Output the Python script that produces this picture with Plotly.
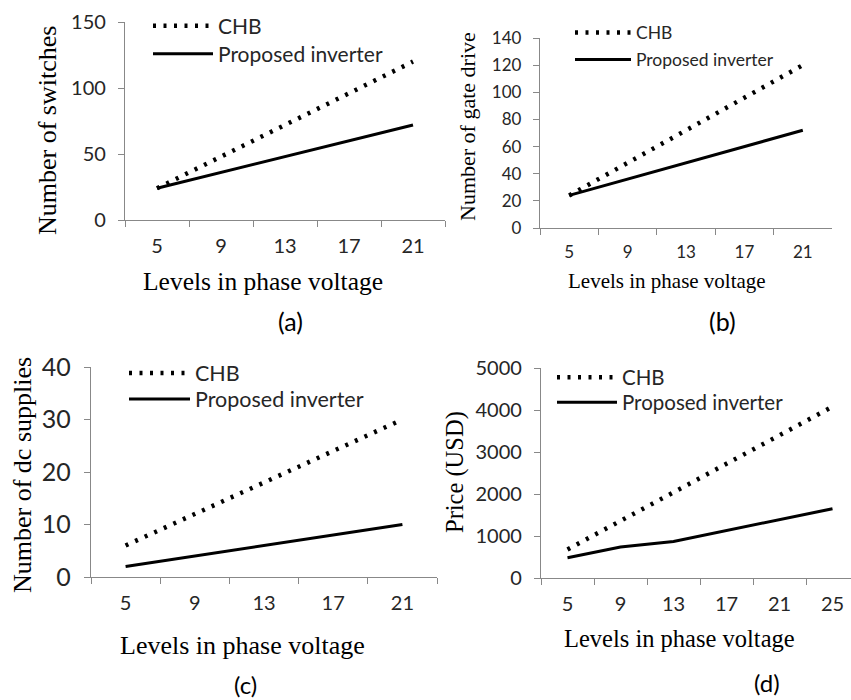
import plotly.graph_objects as go

# ---------------- data ----------------
levels_abc = ["5", "9", "13", "17", "21"]
levels_d = ["5", "9", "13", "17", "21", "25"]

switches_chb = [24, 48, 72, 96, 120]
switches_prop = [24, 36, 48, 60, 72]

gate_chb = [24, 48, 72, 96, 120]
gate_prop = [24, 36, 48, 60, 72]

dc_chb = [6, 12, 18, 24, 30]
dc_prop = [2, 4, 6, 8, 10]

price_chb = [680, 1360, 2040, 2720, 3400, 4080]
price_prop = [480, 740, 870, 1130, 1400, 1650]

series_names = ["CHB", "Proposed inverter"]
y_titles = ["Number of switches", "Number of gate drive", "Number of dc supplies", "Price (USD)"]
x_title = "Levels in phase voltage"
panel_labels = ["(a)", "(b)", "(c)", "(d)"]

# ---------------- layout helpers ----------------
W, H = 851, 700
def px_x(p):
    return p / W
def px_y(p):
    return 1 - p / H

SANS = "Lato, Carlito, Calibri, sans-serif"
SERIF = "Liberation Serif, Times New Roman, serif"
AXIS_GRAY = "#888888"
TXT = "#262626"

panels = [
    dict(xd=(125, 445), yd=(22, 220), yr=150, dt=50, cats=levels_abc, chb=switches_chb, prop=switches_prop,
         xr=(-0.5, 4.5), tickfs=20, ytickfs=20, ystand=8, legfs=21, legx=148, rows=(25, 53), iw=60,
         ytitle=(47, 131, 26), xtitle=(263, 282, 25.5), lab=(290, 321, 25)),
    dict(xd=(540, 832), yd=(38, 228), yr=140, dt=20, cats=levels_abc, chb=gate_chb, prop=gate_prop,
         xr=(-0.5, 4.5), tickfs=17, ytickfs=17, ystand=8, legfs=17.5, legx=570, rows=(34, 61), iw=56,
         ytitle=(467, 127, 22), xtitle=(667, 281, 21), lab=(722, 321, 25)),
    dict(xd=(91, 437), yd=(367, 577), yr=40, dt=10, cats=levels_abc, chb=dc_chb, prop=dc_prop,
         xr=(-0.5, 4.5), tickfs=20, ytickfs=25, ystand=8, legfs=21.5, legx=124, rows=(372, 398), iw=61,
         ytitle=(22, 475, 26), xtitle=(242, 645, 26), lab=(245, 684, 24)),
    dict(xd=(541, 851), yd=(368, 578), yr=5000, dt=1000, cats=levels_d, chb=price_chb, prop=price_prop,
         xr=(-0.5, -0.5 + 310 / 53), tickfs=20, ytickfs=20, ystand=8, legfs=20.5, legx=552, rows=(377, 402), iw=60,
         ytitle=(455, 472, 24.5), xtitle=(679, 638, 24.5), lab=(767, 682, 24)),
]

ROW_OFFSET = 19.5  # legend top -> first item centre, px

fig = go.Figure()
annotations = []
layout_upd = {}

for i, p in enumerate(panels):
    n = "" if i == 0 else str(i + 1)
    xa, ya = "x" + n, "y" + n
    series = [(p["chb"], dict(color="black", width=4.5, dash="3px,7.5px")),
              (p["prop"], dict(color="black", width=3))]
    for j, (vals, line) in enumerate(series):
        k = 2 * i + j + 1
        legname = "legend" if k == 1 else "legend" + str(k)
        fig.add_trace(go.Scatter(
            x=p["cats"], y=vals, mode="lines", name=series_names[j], line=line,
            xaxis=xa, yaxis=ya, legend=legname, hoverinfo="x+y"))
        layout_upd[legname] = dict(
            x=px_x(p["legx"]), y=px_y(p["rows"][j] - ROW_OFFSET), xanchor="left", yanchor="top",
            bgcolor="rgba(0,0,0,0)", borderwidth=0, itemwidth=p["iw"],
            font=dict(family=SANS, size=p["legfs"], color=TXT))

    layout_upd["xaxis" + n] = dict(
        domain=[px_x(p["xd"][0]), px_x(p["xd"][1])], anchor=ya,
        type="category", range=list(p["xr"]), tickson="boundaries",
        showline=True, linecolor=AXIS_GRAY, linewidth=1.3,
        ticks="outside", ticklen=6, tickcolor=AXIS_GRAY, tickwidth=1.3,
        showgrid=False, zeroline=False, fixedrange=True,
        tickfont=dict(family=SANS, size=p["tickfs"], color=TXT),
        ticklabelstandoff=8)
    layout_upd["yaxis" + n] = dict(
        domain=[px_y(p["yd"][1]), px_y(p["yd"][0])], anchor=xa,
        range=[0, p["yr"]], dtick=p["dt"], tick0=0,
        showline=True, linecolor=AXIS_GRAY, linewidth=1.3,
        ticks="outside", ticklen=6, tickcolor=AXIS_GRAY, tickwidth=1.3,
        showgrid=False, zeroline=False, fixedrange=True,
        tickfont=dict(family=SANS, size=p["ytickfs"], color=TXT),
        ticklabelstandoff=p["ystand"])

    tx, ty, tfs = p["ytitle"]
    annotations.append(dict(x=px_x(tx), y=px_y(ty), xref="paper", yref="paper", text=y_titles[i],
                            textangle=-90, showarrow=False, xanchor="center", yanchor="middle",
                            font=dict(family=SERIF, size=tfs, color="black")))
    tx, ty, tfs = p["xtitle"]
    annotations.append(dict(x=px_x(tx), y=px_y(ty), xref="paper", yref="paper", text=x_title,
                            showarrow=False, xanchor="center", yanchor="middle",
                            font=dict(family=SERIF, size=tfs, color="black")))
    tx, ty, tfs = p["lab"]
    annotations.append(dict(x=px_x(tx), y=px_y(ty), xref="paper", yref="paper", text=panel_labels[i],
                            showarrow=False, xanchor="center", yanchor="middle",
                            font=dict(family=SANS, size=tfs, color="black")))

fig.update_layout(
    width=W, height=H, margin=dict(l=0, r=0, t=0, b=0, autoexpand=False),
    paper_bgcolor="white", plot_bgcolor="white",
    showlegend=True, annotations=annotations, **layout_upd)

fig.write_html("out.html")
